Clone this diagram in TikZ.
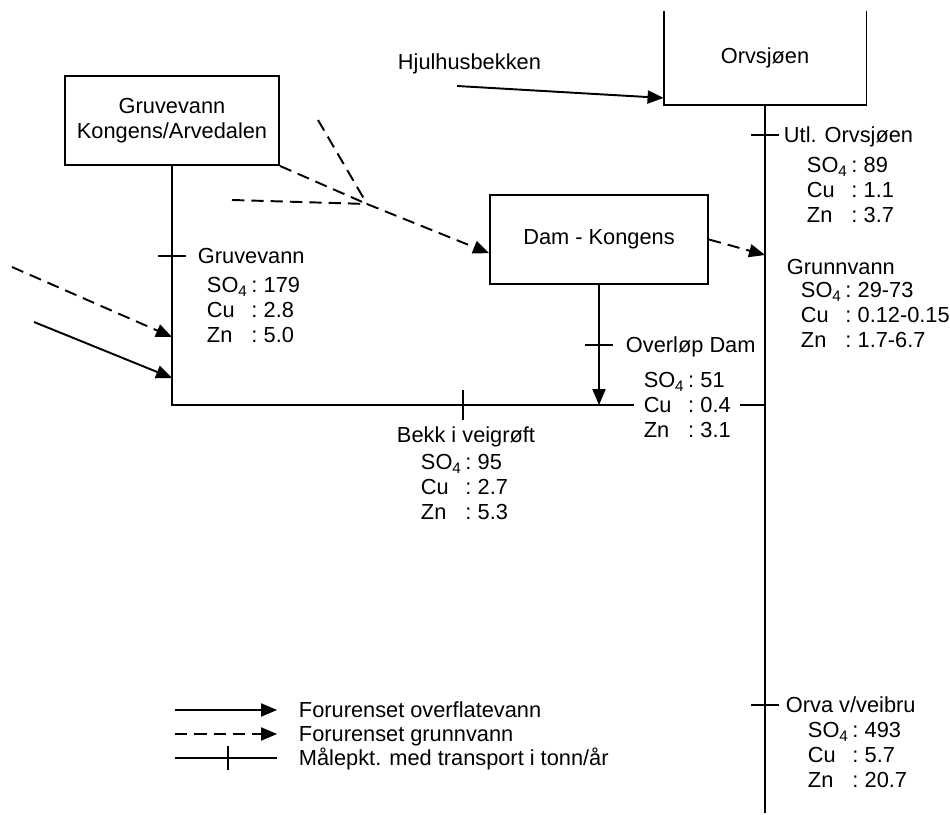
\documentclass[tikz,border=0pt]{standalone}
\usepackage{fontspec}
\setmainfont{Liberation Sans}
\usetikzlibrary{arrows,calc}
\usepackage{tkz-euclide}
\newcommand{\stoff}[3]{\begin{tabular}{@{}l@{\,:\hspace{3.5pt}}l@{}}SO\textsubscript{4}&#1\\Cu&#2\\Zn&#3\end{tabular}}

\begin{document}
\begin{tikzpicture}[line width=1.1pt,>=triangle 45,
  font=\fontsize{12.4}{14.2}\selectfont,
  boks/.style={draw,inner sep=2pt,align=center,minimum height=1.78cm},
  lbl/.style={inner sep=0pt,anchor=west,text height=9pt,text depth=0pt},
  verdi/.style={inner sep=0pt,anchor=west,yshift=-1.6pt},
  grunn/.style={dash pattern=on 7pt off 4pt}]
\useasboundingbox (0,0) rectangle (19,16.28);

\tkzDefPoints{3.44/8.18/K,15.3/8.18/H,15.3/0.02/E,3.44/11.16/T1,15.3/13.58/T2,11.98/9.38/T3,9.26/8.18/T4,15.3/2.18/T5}
\tkzDefPoints{7.34/12.2/J,6.36/13.88/S1,4.64/12.28/S2,0.24/10.94/S3,3.44/9.54/I3,0.68/9.84/S4,3.44/8.72/I4,9.14/14.56/S5,15.3/11.18/I6}
\tkzDefPoints{3.5/2.08/La,5.54/2.08/Lb,3.5/1.6/Lc,5.54/1.6/Ld,3.5/1.12/Le,5.54/1.12/Lf,4.56/1.12/Lt}

% boxes
\node[boks,minimum width=4.28cm] (gruve) at (3.44,13.87) {Gruvevann\\Kongens/Arvedalen};
\node[boks,minimum width=4.36cm] (dam) at (11.98,11.49) {Dam - Kongens};
\node[minimum width=4.02cm,minimum height=1.84cm,inner sep=0pt] (orv) at (15.3,15.12) {Orvsjøen};
\draw (orv.north west) -- (orv.south west) -- (orv.south east) -- (orv.north east);
\node[lbl] (hjul) at (7.94,15.04) {Hjulhusbekken};

\coordinate (I5) at ($(dam.south west)!0.35!(dam.north west)$);
\coordinate (I7) at (dam.south |- K);
\coordinate (I8) at ($(orv.south west)+(0,0.14)$);

% labels and values
\node[lbl] (lgruve) at (3.94,11.16) {Gruvevann};
\node[verdi] (vgruve) at (4.12,10.08) {\stoff{179}{2.8}{5.0}};
\node[lbl] (lutl) at (15.66,13.58) {Utl. Orvsjøen};
\node[verdi] (vutl) at (16.12,12.48) {\stoff{89}{1.1}{3.7}};
\node[lbl] (lgrunn) at (15.72,10.94) {Grunnvann};
\node[verdi] (vgrunn) at (16.0,9.98) {\stoff{29-73}{0.12-0.15}{1.7-6.7}};
\node[lbl] (lover) at (12.5,9.38) {Overløp Dam};
\node[verdi,inner xsep=5pt] (vover) at (12.68,8.18) {\stoff{51}{0.4}{3.1}};
\node[lbl,anchor=center] (lbekk) at (9.32,7.58) {Bekk i veigrøft};
\node[verdi] (vbekk) at (8.4,6.54) {\stoff{95}{2.7}{5.3}};
\node[lbl] (lorva) at (15.7,2.18) {Orva v/veibru};
\node[verdi] (vorva) at (16.14,1.18) {\stoff{493}{5.7}{20.7}};

% flows
\draw (orv.south) -- (E);
\draw (gruve.south) -- (K) -- (vover.west |- K);
\draw (vover.east |- K) -- (H);
\draw[->] (dam.south) -- (I7);
\draw[->] (S5) -- (I8);
\draw[->] (S4) -- (I4);
\draw[grunn,->] (S3) -- (I3);
\draw[grunn] (gruve.south east) -- (J);
\draw[grunn] (S1) -- (J);
\draw[grunn] (S2) -- (J);
\draw[grunn,->] (J) -- (I5);
\draw[grunn,->] (dam.east) -- (I6);

% measuring points
\foreach \p in {T1,T2,T3,T5}
  \draw ([xshift=-0.28cm]\p) -- ([xshift=0.28cm]\p);
\draw ([yshift=-0.3cm]T4) -- ([yshift=0.3cm]T4);

% legend
\draw[->] (La) -- (Lb);
\draw[grunn,->] (Lc) -- (Ld);
\draw (Le) -- (Lf);
\draw ([yshift=-0.24cm]Lt) -- ([yshift=0.24cm]Lt);
\node[lbl] (leg1) at (5.96,2.08) {Forurenset overflatevann};
\node[lbl] (leg2) at (5.96,1.6) {Forurenset grunnvann};
\node[lbl] (leg3) at (5.96,1.12) {Målepkt. med transport i tonn/år};

\end{tikzpicture}
\end{document}
